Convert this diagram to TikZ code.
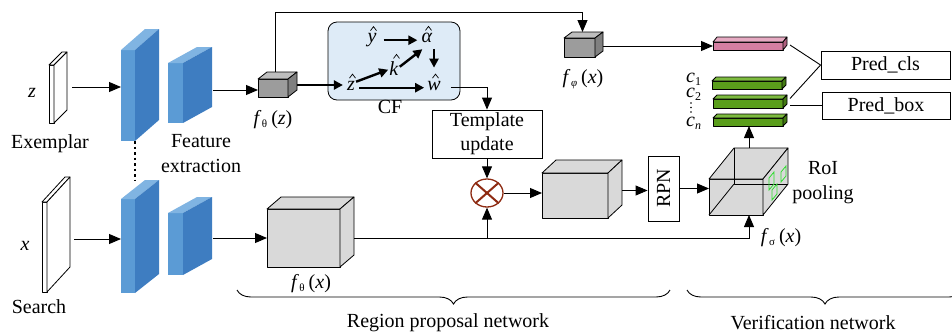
\documentclass[tikz,border=0pt]{standalone}
\usepackage{fontspec}
\usepackage{graphicx}
\setmainfont{Liberation Serif}
\usetikzlibrary{arrows.meta,decorations.pathreplacing,shapes.geometric}

\definecolor{blueF}{HTML}{5B9BD5}
\definecolor{blueS}{HTML}{3E7DC1}
\definecolor{blueT}{HTML}{80B4E2}
\definecolor{grayF}{HTML}{9C9C9C}
\definecolor{grayT}{HTML}{BEBEBE}
\definecolor{grayS}{HTML}{808080}
\definecolor{lgray}{HTML}{D9D9D9}
\definecolor{cfblue}{HTML}{DEEBF7}
\definecolor{pinkF}{HTML}{D57FA2}
\definecolor{pinkT}{HTML}{E6AAC2}
\definecolor{pinkS}{HTML}{B0607F}
\definecolor{greenF}{HTML}{5A9E1B}
\definecolor{greenT}{HTML}{7DBB3F}
\definecolor{greenS}{HTML}{437A12}
\definecolor{mulred}{HTML}{8E2B12}
\definecolor{roigreen}{HTML}{30DD30}

% top and side faces of a box whose front face is the node #2
\newcommand\extrude[6][face]{%
  \path[#1,fill=#5] (#2.north west) -- ++(#3pt,#4pt) -- ([xshift=#3pt,yshift=#4pt]#2.north east) -- (#2.north east) -- cycle;
  \path[#1,fill=#6] (#2.north east) -- ++(#3pt,#4pt) -- ([xshift=#3pt,yshift=#4pt]#2.south east) -- (#2.south east) -- cycle;}
% hat drawn above the letter node #1, shifted right by #2 pt
\newcommand\hatover[2]{%
  \draw[line width=0.7pt, line join=miter] ([xshift=#2pt-3pt,yshift=1.5pt]#1.north) -- ([xshift=#2pt,yshift=5.5pt]#1.north) -- ([xshift=#2pt+3pt,yshift=1.5pt]#1.north);}
% f with subscript and argument
\newcommand\fsub[2]{\textit{f}\kern0.5pt\raisebox{-3pt}{\fontsize{11}{11}\selectfont#1}\kern4pt(\textit{#2})}
\newcommand\csub[1]{\textit{c}\raisebox{-3pt}{\fontsize{12}{12}\selectfont#1}}

\begin{document}
\begin{tikzpicture}[x=1pt,y=-1pt,
  lbl/.style={font=\fontsize{20}{25}\selectfont, inner sep=1pt, align=center},
  mlet/.style={font=\fontsize{20}{25}\selectfont, inner sep=1pt},
  face/.style={draw=black, line width=0.8pt, line join=round},
  soft/.style={draw=none},
  boxfront/.style={rectangle, inner sep=0pt, outer sep=0pt},
  arr/.style={line width=0.9pt, -{Triangle[length=12pt,width=10pt]}},
  tarr/.style={line width=2.4pt, -{Triangle[length=9pt,width=9pt]}},
  conn/.style={line width=0.9pt},
  txtbox/.style={draw=black, line width=0.9pt, inner sep=0pt, font=\fontsize{20}{24}\selectfont, align=center}]

\useasboundingbox (0,0) rectangle (952,333);

% input images
\node[boxfront, face, fill=white, minimum width=5pt, minimum height=58pt] (slabz) at (51.5,94) {};
\extrude{slabz}{13}{13}{white}{white}
\node[boxfront, face, fill=white, minimum width=5pt, minimum height=90pt] (slabx) at (44.5,247) {};
\extrude{slabx}{23}{25}{white}{white}
\node[mlet, anchor=base] (zl) at (32,97) {\textit{z}};
\node[lbl, anchor=base] (exl) at (50,148) {Exemplar};
\node[mlet, anchor=base] (xl) at (25,250) {\textit{x}};
\node[lbl, anchor=base] (srl) at (39,313) {Search};

% backbone blocks
\node[boxfront, fill=blueF, minimum width=14pt, minimum height=91pt] (bz1) at (128,95.5) {};
\extrude[soft]{bz1}{24}{21}{blueT}{blueS}
\node[boxfront, fill=blueF, minimum width=15pt, minimum height=60pt] (bz2) at (175.5,93) {};
\extrude[soft]{bz2}{29}{16}{blueT}{blueS}
\node[boxfront, fill=blueF, minimum width=14pt, minimum height=94pt] (bx1) at (128,246) {};
\extrude[soft]{bx1}{24}{19}{blueT}{blueS}
\node[boxfront, fill=blueF, minimum width=15pt, minimum height=62pt] (bx2) at (175.5,244) {};
\extrude[soft]{bx2}{29}{16}{blueT}{blueS}
\draw[line width=2pt, dash pattern=on 2.5pt off 3pt] (bz1.south east) -- ([yshift=19pt]bx1.north east);
\node[lbl] (fel) at (201,154) {Feature\\extraction};

% feature maps
\node[boxfront, face, fill=grayF, minimum width=30pt, minimum height=18pt] (gz) at (273,88) {};
\extrude{gz}{9}{7}{grayT}{grayS}
\node[mlet, anchor=base] (gzl) at (273,124) {\fsub{θ}{z}};
\node[boxfront, face, fill=lgray, minimum width=73pt, minimum height=58pt] (fx) at (303.5,238) {};
\extrude{fx}{14}{12}{lgray}{lgray}
\node[mlet, anchor=base] (fxl) at (311,288) {\fsub{θ}{x}};
\node[boxfront, face, fill=grayF, minimum width=31pt, minimum height=19pt] (fp) at (579.5,47.5) {};
\extrude{fp}{8}{6}{grayT}{grayS}
\node[mlet, anchor=base] (fpl) at (583,83) {\fsub{\textit{φ}}{x}};
\node[boxfront, face, fill=lgray, minimum width=66pt, minimum height=45pt] (mb) at (575,195.5) {};
\extrude{mb}{14}{13}{lgray}{lgray}

% RoI pooling cube, drawn see-through
\node[boxfront, face, fill=lgray, minimum width=54pt, minimum height=36pt] (roi) at (736,197) {};
\extrude{roi}{25}{31}{lgray}{lgray}
\draw[face] ([xshift=25pt,yshift=31pt]roi.north west) -- ([xshift=25pt,yshift=31pt]roi.south west) -- ([xshift=25pt,yshift=31pt]roi.south east);
\draw[face] (roi.south west) -- ([xshift=25pt,yshift=31pt]roi.south west);
\draw[roigreen, line width=0.8pt] (769,190) -- (769,178) -- (774,172) -- (774,184) -- cycle;
\draw[roigreen, line width=0.8pt] (772,200) -- (772,190) -- (777,184) -- (777,194) -- cycle;
\draw[roigreen, line width=0.8pt] (781,182) -- (781,172) -- (786,166) -- (786,176) -- cycle;
\node[lbl] (roil) at (823,183) {RoI\\pooling};
\node[mlet, anchor=base] (fsl) at (781,242) {\fsub{σ}{x}};

% output vectors
\node[boxfront, face, fill=pinkF, minimum width=70pt, minimum height=8pt] (pink) at (748,46) {};
\extrude{pink}{4}{5}{pinkT}{pinkS}
\node[boxfront, face, fill=greenF, minimum width=70pt, minimum height=8pt] (g1) at (747,85) {};
\extrude{g1}{4}{4}{greenT}{greenS}
\node[boxfront, face, fill=greenF, minimum width=70pt, minimum height=9pt] (g2) at (748,103.5) {};
\extrude{g2}{4}{4}{greenT}{greenS}
\node[boxfront, face, fill=greenF, minimum width=70pt, minimum height=8pt] (g3) at (748,122) {};
\extrude{g3}{4}{4}{greenT}{greenS}
\node[inner sep=0pt, align=left, font=\fontsize{20}{15}\selectfont, anchor=north west] (c12) at (686,73) {\csub{1}\\\csub{2}};
\foreach \dy in {103,107.5,112} \fill (691,\dy) circle[radius=0.9pt];
\node[mlet, anchor=base west, inner sep=0pt] (cn) at (686,126) {\csub{\textit{n}}};

% text boxes
\node[txtbox, minimum width=110pt, minimum height=48pt] (tu) at (487,134) {Template\\update};
\node[txtbox, minimum width=31pt, minimum height=65pt] (rpn) at (663.5,188.5) {\rotatebox{90}{RPN}};
\node[txtbox, minimum width=129pt, minimum height=28pt] (pcls) at (885.5,65) {Pred\_cls};
\node[txtbox, minimum width=128pt, minimum height=27pt] (pbox) at (886,105.5) {Pred\_box};

% correlation filter
\node[draw, line width=0.8pt, fill=cfblue, rounded corners=9pt, minimum width=132pt, minimum height=78pt, inner sep=0pt] (cf) at (394,61) {};
\node[mlet, anchor=base] (cfl) at (390,113) {CF};
\node[mlet, anchor=base] (yh) at (372,42.5) {\textit{y}};
\node[mlet, anchor=base] (ah) at (427,42.5) {\textit{α}};
\node[mlet, anchor=base] (kh) at (394,75) {\textit{k}};
\node[mlet, anchor=base] (zh) at (351,90) {\textit{z}};
\node[mlet, anchor=base] (wh) at (434,90) {\textit{w}};
\hatover{yh}{1.5}
\hatover{ah}{1.5}
\hatover{kh}{2.5}
\hatover{zh}{1.5}
\hatover{wh}{1.5}
\draw[tarr, shorten <=6pt, shorten >=3pt] (yh.mid east) -- (ah.mid west);
\draw[tarr, shorten >=12pt] ([yshift=-5pt]ah.south -| wh.north) -- (wh.north);
\draw[tarr] ([yshift=6pt]zh.mid east) -- ([yshift=3pt]kh.mid west);
\draw[tarr] ([yshift=6pt]kh.mid east) -- ([xshift=2pt,yshift=-9pt]ah.mid west);
\draw[tarr, shorten <=3pt, shorten >=2pt] (zh.mid east) -- (wh.mid west);

% multiplication
\node[ellipse, draw=mulred, line width=1.3pt, fill=white, minimum width=32pt, minimum height=28pt, inner sep=0pt] (mul) at (487,193) {};
\draw[mulred, line width=2pt] (mul.north west) -- (mul.south east) (mul.north east) -- (mul.south west);

% connectors
\coordinate (za) at ([xshift=18pt,yshift=7pt]slabz.east);
\draw[arr] (za) -- (za -| bz1.west);
\coordinate (xa) at ([xshift=27pt,yshift=8pt]slabx.east);
\draw[arr] (xa) -- (xa -| bx1.west);
\coordinate (bz2r) at ([xshift=30pt,yshift=3pt]bz2.east);
\draw[arr] (bz2r) -- (bz2r -| gz.west);
\coordinate (bx2r) at ([xshift=30pt,yshift=6pt]bx2.east);
\draw[arr] (bx2r) -- (bx2r -| fx.west);
\coordinate (gzr) at ([xshift=9pt,yshift=3pt]gz.east);
\draw[tarr, shorten >=3pt] (gzr) -- (gzr -| zh.west);
\coordinate (gzt) at ([xshift=2pt,yshift=7pt]gz.north);
\coordinate (fpt) at ([xshift=3pt,yshift=6pt]fp.north);
\coordinate (topy) at (0,12);
\draw[arr] (gzt) |- (topy -| fpt) -- (fpt);
\coordinate (fpr) at ([xshift=8pt,yshift=1.5pt]fp.east);
\draw[arr] (fpr) -- (fpr -| pink.west);
\draw[arr, shorten <=9pt] (wh.mid east) -| (tu.north);
\draw[arr] (tu.south) -- (mul.north);
\draw[arr] (mul.east) -- (mul.east -| mb.west);
\coordinate (mbr) at ([xshift=14pt,yshift=5pt]mb.east);
\draw[arr] (mbr) -- (mbr -| rpn.west);
\draw[arr] (rpn.east) -- (rpn.east -| roi.west);
\coordinate (fxr) at ([xshift=14pt]fx.east);
\coordinate (roib) at ([xshift=13pt]roi.south);
\draw[arr] (fxr) -| (roib);
\draw[arr] (fxr -| mul.south) -- (mul.south);
\coordinate (roit) at ([xshift=13pt,yshift=31pt]roi.north);
\draw[arr] (roit) -- (roit |- g3.south);
\draw[conn] ([xshift=7pt,yshift=1pt]pink.east) -- (pcls.west);
\draw[conn] ([xshift=7pt,yshift=5pt]g2.east) -- (pcls.west);
\coordinate (g2r) at ([xshift=7pt]g2.east);
\draw[conn] (g2r |- pbox.west) -- (pbox.west);

% stage braces
\coordinate (rpl) at (237,290);
\coordinate (rpr) at (670,290);
\draw[conn, decorate, decoration={brace, mirror, amplitude=14pt}] (rpl) -- (rpr);
\node[mlet, anchor=base] (rpnet) at (448,327) {Region proposal network};
\coordinate (vnl) at (687,290);
\coordinate (vnr) at (963,290);
\draw[conn, decorate, decoration={brace, mirror, amplitude=14pt}] (vnl) -- (vnr);
\node[mlet, anchor=base, inner sep=0pt] (vnet) at (813,329) {Verification network};
\end{tikzpicture}
\end{document}
